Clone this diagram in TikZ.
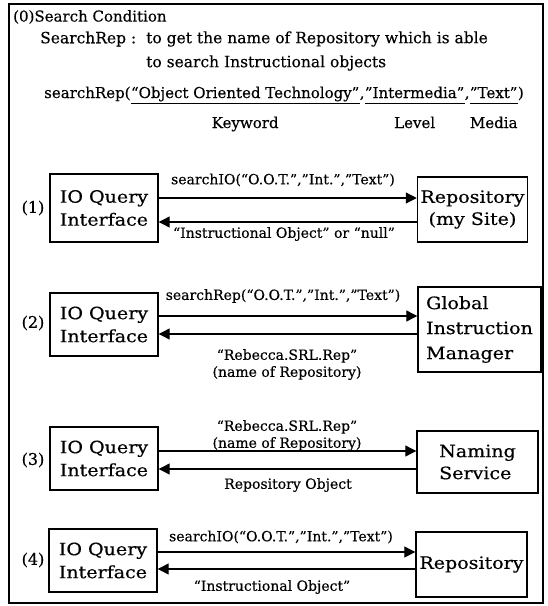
\documentclass[tikz,border=0pt]{standalone}
\usepackage{fontspec}
\setmainfont[FakeBold=0.4]{DejaVu Serif}
\newfontfamily\bxfont[FakeStretch=1.12,FakeBold=0.5]{DejaVu Serif}
\usetikzlibrary{arrows.meta}
\begin{document}
\begin{tikzpicture}[x=1pt,y=-1pt,
  box/.style={draw, line width=1.4pt, inner sep=3pt, font=\bxfont\fontsize{17}{23}\selectfont},
  lbl/.style={font=\fontsize{14}{17}\selectfont, inner sep=0pt, align=center},
  top/.style={font=\fontsize{15.5}{17}\selectfont, inner sep=0pt, anchor=west},
  sr/.style={font=\fontsize{15}{17}\selectfont, inner sep=0pt, anchor=base west, text depth=5pt},
  num/.style={font=\fontsize{16}{18}\selectfont, inner sep=0pt},
  arr/.style={line width=1.2pt, -{Triangle[length=11pt,width=11pt]}},
  uline/.style={line width=0.9pt},
]
\useasboundingbox (0,0) rectangle (548,606);
\node[draw, line width=1.2pt, minimum width=534pt, minimum height=599pt, inner sep=0pt] (frame) at (276,303.5) {};

% (0) search condition
\node[top, font=\fontsize{15}{17}\selectfont] (t0) at (13,17) {(0)Search Condition};
\node[top] (t1) at (40,39) {SearchRep :};
\node[top] (t2) at (146,39) {to get the name of Repository which is able};
\node[top] (t3) at (146,63) {to search Instructional objects};

\node[sr] (s1) at (44,98) {searchRep(};
\node[sr] (s2) at (s1.base east) {“Object Oriented Technology”};
\node[sr] (s3) at (s2.base east) {,};
\node[sr] (s4) at (s3.base east) {"Intermedia"};
\node[sr] (s5) at (s4.base east) {,};
\node[sr] (s6) at (s5.base east) {"Text”};
\node[sr] (s7) at (s6.base east) {)};
\draw[uline] (s2.south west) -- (s2.south east);
\draw[uline] (s4.south west) -- (s4.south east);
\draw[uline] (s6.south west) -- (s6.south east);
\node[lbl, font=\fontsize{15}{17}\selectfont, anchor=base] (kw) at ([yshift=-30pt]s2.base) {Keyword};
\node[lbl, font=\fontsize{15}{17}\selectfont, anchor=base] (lv) at ([yshift=-30pt]s4.base) {Level};
\node[lbl, font=\fontsize{15}{17}\selectfont, anchor=base] (md) at ([yshift=-30pt]s6.base) {Media};

% row 1
\node[box, minimum width=108pt, minimum height=68pt, align=left] (io1) at (104,208) {IO Query\\Interface};
\node[box, minimum width=109pt, minimum height=65pt, align=center, font=\bxfont\fontsize{17}{22}\selectfont] (rp1) at (472.5,209.5) {Repository\\(my Site)};
\node[num] (n1) at (33,208) {(1)};
\coordinate (f1) at (0,198);
\coordinate (b1) at (0,222);
\draw[arr] (io1.east |- f1) -- (rp1.west |- f1);
\draw[arr] (rp1.west |- b1) -- (io1.east |- b1);
\node[lbl] (q1) at (283,180) {searchIO(“O.O.T.”,"Int.","Text”)};
\node[lbl] (r1) at (284,234) {“Instructional Object” or “null”};

% row 2
\node[box, minimum width=108pt, minimum height=63pt, align=left] (io2) at (104,324.5) {IO Query\\Interface};
\node[box, minimum width=123pt, minimum height=85pt, align=left, font=\bxfont\fontsize{17}{25}\selectfont] (gm2) at (479.5,329.5) {Global\\Instruction\\Manager};
\node[num] (n2) at (33,323) {(2)};
\coordinate (f2) at (0,316);
\coordinate (b2) at (0,334);
\draw[arr] (io2.east |- f2) -- (gm2.west |- f2);
\draw[arr] (gm2.west |- b2) -- (io2.east |- b2);
\node[lbl] (q2) at (283,296) {searchRep(“O.O.T.”,"Int.","Text”)};
\node[lbl] (r2) at (287,364.5) {“Rebecca.SRL.Rep”\\(name of Repository)};

% row 3
\node[box, minimum width=108pt, minimum height=63pt, align=left] (io3) at (104,458.5) {IO Query\\Interface};
\node[box, minimum width=121pt, minimum height=62pt, align=left, font=\bxfont\fontsize{17}{22}\selectfont] (ns3) at (477.5,462) {Naming\\Service};
\node[num] (n3) at (33,460) {(3)};
\coordinate (f3) at (0,451);
\coordinate (b3) at (0,469);
\draw[arr] (io3.east |- f3) -- (ns3.west |- f3);
\draw[arr] (ns3.west |- b3) -- (io3.east |- b3);
\node[lbl] (q3) at (287,435.5) {“Rebecca.SRL.Rep”\\(name of Repository)};
\node[lbl] (r3) at (288,485) {Repository Object};

% row 4
\node[box, minimum width=108pt, minimum height=63pt, align=left] (io4) at (103,560.5) {IO Query\\Interface};
\node[box, minimum width=111pt, minimum height=65pt] (rp4) at (471.5,564.5) {Repository};
\node[num] (n4) at (33,560) {(4)};
\coordinate (f4) at (0,552);
\coordinate (b4) at (0,569);
\draw[arr] (io4.east |- f4) -- (rp4.west |- f4);
\draw[arr] (rp4.west |- b4) -- (io4.east |- b4);
\node[lbl] (q4) at (281,537) {searchIO(“O.O.T.”,"Int.","Text”)};
\node[lbl] (r4) at (272,587) {“Instructional Object”};
\end{tikzpicture}
\end{document}
